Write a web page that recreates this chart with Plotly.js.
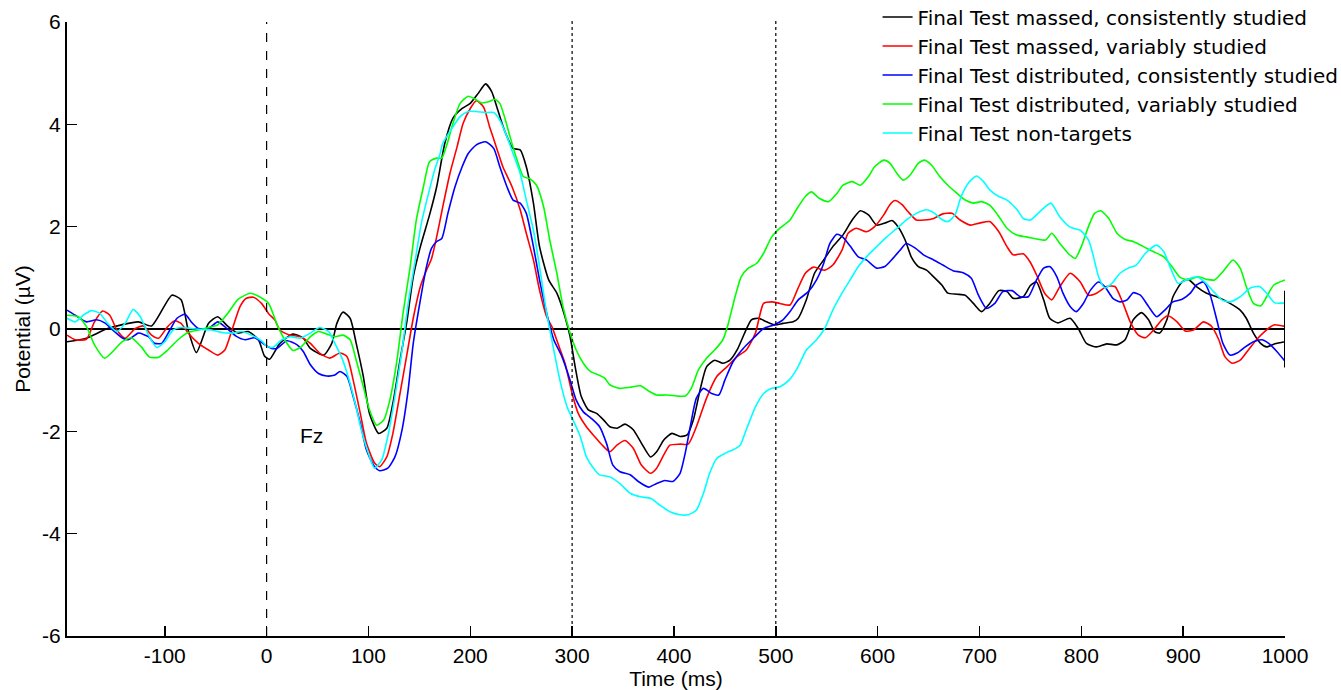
<!DOCTYPE html>
<html>
<head>
<meta charset="utf-8">
<script src="https://cdn.plot.ly/plotly-3.0.1.min.js"></script>
<style>html,body{margin:0;padding:0;background:#fff;}#chart{width:1341px;height:690px;}</style>
</head>
<body>
<div id="chart"></div>
<script>
// Series names
const seriesNames = [
  "Final Test massed, consistently studied",
  "Final Test massed, variably studied",
  "Final Test distributed, consistently studied",
  "Final Test distributed, variably studied",
  "Final Test non-targets"
];
const seriesColors = ["#000000", "#ff0000", "#0000ff", "#00ff00", "#00ffff"];

// Black: massed, consistently studied
const tK = [-196,-177,-156,-126,-113,-93,-84,-77,-69,-57,-48,-38,-28,-18,-8,-2,3,13,26,36,43,56,64,69,75,82,88,95,101,110,118,124,131,138,144,151,160,167,175,183,192,200,208,215,221,227,234,242,249,255,262,268,277,285,293,298,303,309,316,324,331,337,344,352,360,368,377,383,390,398,406,413,419,426,432,440,448,455,462,470,476,483,491,499,507,517,522,530,538,547,556,566,575,583,591,599,607,614,620,627,633,640,648,655,663,669,678,686,694,702,710,719,727,733,743,750,756,763,769,777,789,797,805,815,825,835,843,851,859,866,872,877,884,890,899,905,913,923,933,946,956,962,969,976,982,990,1000];
const vK = [-0.25,-0.18,0.01,0.14,0.06,0.66,0.57,-0.02,-0.46,0.11,0.24,0.05,-0.08,-0.05,-0.21,-0.53,-0.59,-0.28,-0.10,-0.18,-0.38,-0.51,-0.28,0.11,0.33,0.21,-0.28,-0.93,-1.65,-2.04,-1.94,-1.45,-0.61,0.18,1.02,1.61,2.23,2.78,3.63,4.12,4.31,4.41,4.61,4.79,4.64,4.28,3.86,3.53,3.50,3.17,2.46,1.61,0.96,0.70,0.24,-0.15,-0.74,-1.32,-1.58,-1.65,-1.78,-1.91,-1.94,-1.86,-1.97,-2.23,-2.50,-2.40,-2.17,-2.04,-2.10,-2.07,-1.78,-1.16,-0.74,-0.61,-0.67,-0.61,-0.41,-0.05,0.18,0.21,0.14,0.08,0.11,0.14,0.21,0.57,1.09,1.35,1.61,1.84,2.13,2.31,2.23,2.03,2.07,2.12,2.00,1.74,1.41,1.22,1.15,1.02,0.86,0.70,0.68,0.66,0.50,0.34,0.50,0.75,0.73,0.60,0.63,0.85,0.92,0.57,0.21,0.12,0.21,0.01,-0.28,-0.35,-0.29,-0.31,-0.21,0.18,0.32,0.18,-0.05,-0.08,0.18,0.63,0.92,0.97,0.83,0.70,0.63,0.50,0.37,0.21,-0.08,-0.28,-0.35,-0.29,-0.25];

// Red: massed, variably studied
const tR = [-196,-188,-177,-169,-161,-154,-147,-139,-129,-121,-113,-106,-97,-90,-84,-77,-67,-57,-48,-41,-34,-26,-20,-13,-5,2,8,13,23,33,43,52,62,72,79,85,92,98,106,111,118,124,131,138,144,151,157,162,167,173,180,187,193,200,206,213,219,226,232,241,249,255,262,268,275,280,286,293,300,306,314,322,330,337,344,352,360,368,377,383,390,396,406,414,422,432,442,452,462,471,480,488,496,504,514,521,529,537,548,556,565,571,579,589,597,606,612,617,624,630,638,646,655,664,673,681,691,700,710,719,727,733,743,750,756,764,771,779,789,799,807,815,825,833,841,848,856,863,871,879,885,894,902,910,920,928,935,941,948,956,964,972,980,989,1000];
const vR = [-0.12,-0.21,-0.20,0.14,0.35,0.27,-0.02,-0.18,0.01,0.06,-0.12,-0.18,0.05,0.16,0.11,-0.08,-0.28,-0.41,-0.51,-0.41,-0.02,0.44,0.60,0.62,0.50,0.30,0.18,-0.02,-0.12,-0.15,-0.28,-0.47,-0.57,-0.47,-0.54,-1.00,-1.65,-2.23,-2.62,-2.69,-2.50,-2.04,-1.26,-0.47,0.21,0.83,1.15,1.38,1.80,2.39,3.04,3.56,4.02,4.31,4.46,4.34,3.95,3.53,3.17,2.78,2.33,1.87,1.35,0.76,0.24,0.05,-0.28,-0.67,-1.26,-1.65,-1.91,-2.10,-2.28,-2.40,-2.27,-2.18,-2.33,-2.66,-2.82,-2.72,-2.46,-2.27,-2.25,-2.25,-1.91,-1.35,-0.93,-0.74,-0.54,-0.41,-0.08,0.50,0.53,0.50,0.47,0.76,1.09,1.21,1.15,1.25,1.54,1.87,1.97,1.90,2.00,2.23,2.43,2.51,2.43,2.29,2.13,2.13,2.16,2.25,2.26,2.13,2.03,2.07,2.10,1.90,1.61,1.45,1.47,1.30,1.06,0.70,0.57,0.83,1.09,0.92,0.66,0.70,0.83,0.83,0.50,0.14,-0.12,-0.17,-0.02,0.18,0.26,0.14,-0.04,-0.02,0.14,0.05,-0.21,-0.54,-0.67,-0.61,-0.41,-0.21,-0.05,0.08,0.05];

// Blue: distributed, consistently studied
const tB = [-196,-188,-177,-167,-159,-151,-142,-136,-126,-116,-110,-103,-95,-88,-80,-74,-67,-57,-48,-39,-30,-21,-12,-3,5,10,20,30,36,43,51,59,67,72,79,85,92,98,105,111,119,126,133,139,144,151,157,162,167,172,178,185,192,198,206,215,223,229,236,242,249,255,262,268,275,282,290,298,304,311,319,327,334,340,347,357,365,375,383,391,399,406,411,416,422,429,437,444,450,458,468,478,488,498,507,514,522,532,540,547,553,560,566,573,581,589,599,607,615,622,628,637,645,655,664,674,684,692,699,707,715,723,732,740,748,756,763,769,776,782,789,795,802,809,817,823,831,838,845,851,858,866,874,882,890,899,907,913,920,926,933,939,946,953,961,969,977,984,992,1000];
const vB = [0.37,0.27,0.14,0.18,0.12,-0.02,-0.17,-0.21,-0.08,-0.15,-0.28,-0.28,-0.02,0.21,0.29,0.14,0.01,0.01,0.14,0.01,-0.14,-0.21,-0.17,-0.29,-0.38,-0.38,-0.23,-0.31,-0.44,-0.70,-0.87,-0.92,-0.90,-0.83,-0.93,-1.32,-1.84,-2.36,-2.66,-2.77,-2.72,-2.50,-1.97,-1.19,-0.28,0.57,1.22,1.58,1.71,1.77,2.26,2.78,3.17,3.43,3.60,3.66,3.53,3.17,2.78,2.52,2.46,2.26,1.61,0.96,0.31,-0.21,-0.54,-1.00,-1.39,-1.62,-1.75,-1.91,-2.25,-2.66,-2.79,-2.85,-2.98,-3.09,-3.02,-2.96,-2.98,-2.82,-2.43,-1.91,-1.35,-1.16,-1.26,-1.29,-1.00,-0.64,-0.38,-0.18,0.01,0.08,0.18,0.34,0.57,0.73,0.96,1.28,1.67,1.85,1.79,1.62,1.41,1.35,1.19,1.22,1.38,1.54,1.67,1.58,1.45,1.35,1.25,1.14,1.10,0.99,0.66,0.40,0.50,0.73,0.75,0.63,0.63,0.96,1.19,1.22,1.02,0.70,0.44,0.34,0.50,0.76,0.92,0.83,0.60,0.53,0.57,0.71,0.66,0.44,0.24,0.37,0.53,0.58,0.70,0.86,0.92,0.70,0.18,-0.28,-0.51,-0.47,-0.35,-0.25,-0.21,-0.28,-0.44,-0.63];

// Green: distributed, variably studied
const tG = [-196,-185,-177,-169,-159,-151,-142,-133,-123,-115,-106,-97,-87,-77,-67,-57,-48,-38,-28,-16,-7,2,11,20,26,34,43,51,59,67,75,82,88,95,101,108,115,121,128,134,141,147,154,160,167,172,177,183,190,198,205,211,218,224,229,234,239,246,252,259,265,272,278,285,291,298,304,311,318,326,332,337,347,357,367,375,383,393,403,411,417,424,432,440,448,453,460,466,473,481,488,496,504,514,521,529,535,543,552,560,566,575,583,591,597,606,612,619,625,632,640,646,653,661,669,678,686,694,702,710,718,727,736,746,756,765,771,779,787,794,800,807,813,819,827,835,843,851,861,871,881,889,897,905,915,923,931,939,949,956,962,969,976,982,989,1000];
const vG = [0.27,0.24,0.05,-0.31,-0.57,-0.44,-0.25,-0.17,-0.35,-0.55,-0.55,-0.41,-0.21,-0.07,-0.02,0.03,0.08,0.31,0.58,0.70,0.63,0.50,0.05,-0.28,-0.42,-0.35,-0.15,-0.05,-0.10,-0.15,-0.12,-0.21,-0.61,-1.13,-1.58,-1.88,-1.78,-1.39,-0.61,0.31,1.22,2.13,2.78,3.27,3.34,3.34,3.60,4.02,4.41,4.55,4.49,4.42,4.44,4.49,4.41,4.12,3.76,3.30,2.98,2.93,2.81,2.39,1.74,1.09,0.44,-0.08,-0.41,-0.67,-0.83,-0.90,-0.96,-1.09,-1.16,-1.14,-1.11,-1.21,-1.29,-1.29,-1.31,-1.31,-1.16,-0.80,-0.57,-0.41,-0.21,0.08,0.63,1.02,1.19,1.28,1.48,1.80,1.97,2.13,2.36,2.59,2.68,2.55,2.49,2.65,2.81,2.88,2.81,2.98,3.17,3.30,3.24,3.04,2.91,3.01,3.24,3.30,3.20,2.98,2.81,2.65,2.52,2.46,2.49,2.42,2.23,1.97,1.84,1.80,1.76,1.74,1.87,1.67,1.48,1.38,1.61,2.00,2.26,2.31,2.16,1.87,1.75,1.71,1.61,1.51,1.41,1.22,1.01,0.96,1.02,0.97,0.96,1.12,1.35,1.19,0.83,0.50,0.45,0.63,0.86,0.96];

// Cyan: non-targets
const tC = [-196,-188,-180,-172,-164,-156,-147,-139,-131,-124,-116,-108,-100,-92,-84,-74,-64,-54,-44,-34,-25,-15,-5,0,6,15,23,33,43,52,61,67,74,80,87,93,100,106,113,119,126,133,139,146,152,159,165,170,173,182,190,198,206,214,223,229,236,242,249,255,262,268,275,282,288,295,301,308,314,321,327,337,347,357,367,377,386,396,406,414,422,429,435,442,450,458,465,471,480,488,496,504,513,521,530,540,548,556,565,573,581,589,599,609,619,628,638,648,656,663,669,676,682,689,697,704,710,719,727,737,743,750,759,770,779,789,799,807,812,817,823,830,838,846,854,863,874,881,887,895,903,913,921,930,938,946,956,966,975,982,990,1000];
const vC = [0.21,0.14,0.27,0.36,0.31,0.11,-0.05,0.11,0.38,0.24,-0.12,-0.36,-0.25,-0.02,0.03,0.01,-0.01,-0.02,-0.07,-0.08,-0.05,-0.12,-0.23,-0.33,-0.36,-0.21,-0.15,-0.18,-0.08,0.03,-0.05,-0.28,-0.57,-0.93,-1.45,-1.97,-2.43,-2.72,-2.56,-2.10,-1.32,-0.41,0.50,1.35,2.07,2.65,3.11,3.40,3.63,3.92,4.15,4.25,4.25,4.23,4.23,4.08,3.76,3.43,3.04,2.52,1.93,1.22,0.31,-0.41,-1.00,-1.52,-1.78,-2.10,-2.50,-2.72,-2.85,-2.89,-3.02,-3.21,-3.28,-3.31,-3.44,-3.57,-3.63,-3.63,-3.54,-3.21,-2.82,-2.53,-2.43,-2.36,-2.27,-1.97,-1.52,-1.26,-1.16,-1.13,-1.00,-0.77,-0.41,-0.21,0.01,0.37,0.70,0.96,1.22,1.41,1.61,1.80,1.97,2.13,2.26,2.33,2.26,2.14,2.10,2.23,2.59,2.85,2.99,2.88,2.72,2.59,2.52,2.33,2.16,2.13,2.29,2.46,2.19,1.99,1.93,1.74,1.41,1.02,0.80,0.89,1.09,1.19,1.25,1.48,1.64,1.51,1.22,0.89,0.96,1.02,0.92,0.73,0.57,0.53,0.63,0.80,0.83,0.70,0.51,0.51];

const xTicks = [-100,0,100,200,300,400,500,600,700,800,900,1000];
const yTicks = [-6,-4,-2,0,2,4,6];
const markerTimes = [0, 300, 500];

const T = [tK, tR, tB, tG, tC];
const V = [vK, vR, vB, vG, vC];

const FONT = "Liberation Sans, Arial, sans-serif";
const LEGEND_FONT = "DejaVu Sans, Liberation Sans, sans-serif";

const traces = seriesNames.map((name, i) => ({
  type: "scatter",
  mode: "lines",
  name: name,
  x: T[i],
  y: V[i],
  line: {color: seriesColors[i], width: 1.6, shape: "spline", smoothing: 0.6},
  hoverinfo: "skip"
}));

const shapes = [
  {type: "line", xref: "x", yref: "y", x0: -196, x1: 1000, y0: 0, y1: 0, line: {color: "#000", width: 2}, layer: "below"},
  {type: "line", xref: "x", yref: "y", x0: 1000, x1: 1000, y0: -0.75, y1: 0.75, line: {color: "#000", width: 2}},
  {type: "line", xref: "x", yref: "y", x0: markerTimes[0], x1: markerTimes[0], y0: -6, y1: 6, line: {color: "#000", width: 1.2, dash: "dash"}},
  {type: "line", xref: "x", yref: "paper", x0: markerTimes[1], x1: markerTimes[1], y0: 0, y1: 1.006, line: {color: "#000", width: 1.2, dash: "dot"}},
  {type: "line", xref: "x", yref: "paper", x0: markerTimes[2], x1: markerTimes[2], y0: 0, y1: 1.006, line: {color: "#000", width: 1.2, dash: "dot"}}
];

const layout = {
  width: 1341,
  height: 690,
  margin: {l: 67, r: 56, t: 22, b: 54, autoexpand: false},
  paper_bgcolor: "#fff",
  plot_bgcolor: "#fff",
  font: {family: FONT, size: 21, color: "#000"},
  showlegend: true,
  legend: {
    x: 0.6655, y: 1.040, xanchor: "left", yanchor: "top",
    bgcolor: "rgba(0,0,0,0)", borderwidth: 0,
    font: {family: LEGEND_FONT, size: 20, color: "#000"},
    tracegroupgap: 0, itemwidth: 30
  },
  xaxis: {
    range: [-196, 1000],
    tickvals: xTicks,
    ticktext: xTicks.map(String),
    ticks: "inside", ticklen: 10, tickwidth: 1.5, tickcolor: "#000",
    showline: true, linewidth: 2, linecolor: "#000",
    showgrid: false, zeroline: false,
    tickfont: {family: FONT, size: 21},
    title: {text: "Time (ms)", font: {family: FONT, size: 21}, standoff: 2}
  },
  yaxis: {
    range: [-6, 6],
    tickvals: yTicks,
    ticktext: yTicks.map(String),
    ticks: "inside", ticklen: 10, tickwidth: 1.5, tickcolor: "#000",
    showline: true, linewidth: 2, linecolor: "#000",
    showgrid: false, zeroline: false,
    tickfont: {family: FONT, size: 21},
    title: {text: "Potential (\u00b5V)", font: {family: FONT, size: 21}, standoff: 6}
  },
  shapes: shapes,
  annotations: [
    {x: 44, y: -2.09, xref: "x", yref: "y", text: "Fz", showarrow: false, font: {family: FONT, size: 21, color: "#000"}}
  ]
};

Plotly.newPlot("chart", traces, layout, {displayModeBar: false, staticPlot: true});
</script>
</body>
</html>
